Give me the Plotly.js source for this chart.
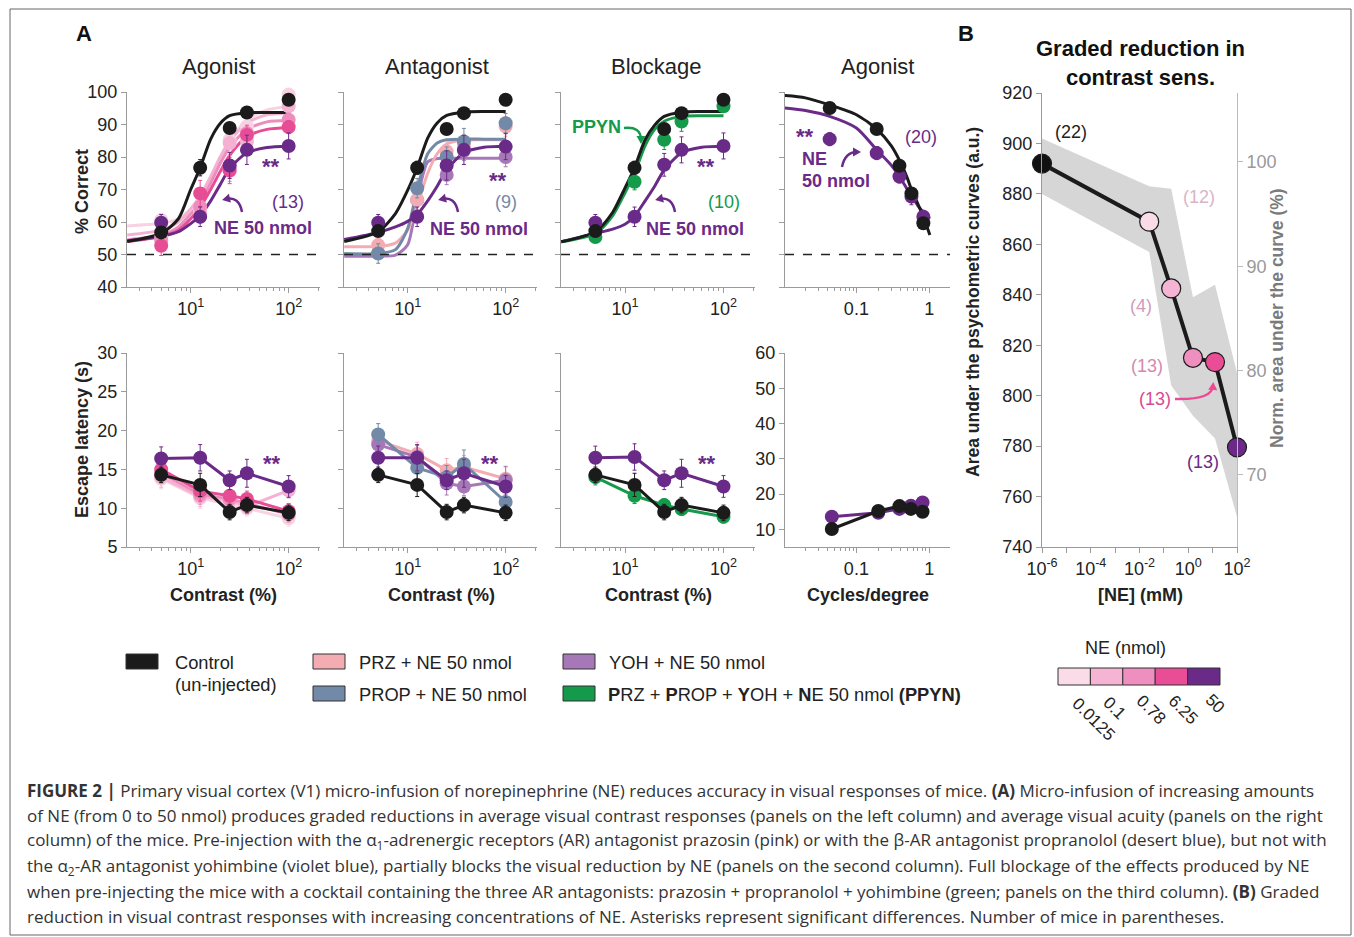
<!DOCTYPE html>
<html><head><meta charset="utf-8">
<script src="https://cdn.plot.ly/plotly-3.0.1.min.js"></script>
<style>html,body{margin:0;padding:0;background:#fff;} #chart{width:1354px;height:937px;}</style>
</head><body><div id="chart"></div>
<script>
// ---------------- DATA ----------------
const contrastPct = [5, 12.5, 25, 37.5, 100];
const cyclesTop = [0.043, 0.19, 0.39, 0.57, 0.83];
const cyclesBot = [0.046, 0.2, 0.39, 0.56, 0.81];
const fitContrast = [2.25, 5, 7.5, 10, 12.5, 16, 20, 25, 37.5, 60, 100];
const fitCycles = [0.0103, 0.02, 0.043, 0.1, 0.19, 0.3, 0.39, 0.5, 0.57, 0.7, 0.83, 1.02];

// Agonist (% correct)
const ag_ctrl = [56.8, 76.7, 88.9, 93.7, 97.6];
const ag_ne50 = [59.8, 61.6, 77.4, 82.2, 83.4];
const ag_ne625 = [52.7, 68.8, 75.8, 86.8, 89.2];
const ag_ne078 = [54.4, 64.7, 76.5, 87.3, 91.5];
const ag_ne01 = [55.4, 62.6, 84.3, 84.8, 95.6];
const ag_ne00125 = [60.6, 63.5, 85.3, 89.4, 99.2];
const ag_ctrl_err = [1.5, 2.5, 1.5, 1, 1];
const ag_ne50_err = [2.5, 3, 4, 4.5, 4];
const ag_ne625_err = [3, 4, 4, 3, 2];
const ag_ne078_err = [2, 3, 4, 2, 2];
const ag_ne01_err = [2, 3, 3, 2, 2];
const ag_ne00125_err = [2, 2, 3, 2, 2];
const agFit_ctrl = [54.0, 56.5, 61, 70, 76.7, 85.5, 90.3, 92.7, 93.6, 93.7, 93.7];
const agFit_ne50 = [54.2, 55.6, 57, 59.5, 62, 66.5, 71.5, 76.5, 81.3, 82.9, 83.3];
const agFit_ne625 = [54.0, 55.5, 57.5, 61, 64.5, 70, 75.5, 80.5, 86.3, 88.5, 89.0];
const agFit_ne078 = [54.5, 56, 58.5, 62.5, 66, 72, 78, 83, 88.5, 90.8, 91.2];
const agFit_ne01 = [56, 57.5, 60, 64, 68, 74, 80, 85, 90.5, 93, 93.5];
const agFit_ne00125 = [58.8, 59.6, 61, 64, 67.5, 73, 79, 85, 91.5, 94.5, 95.5];

// Antagonist (% correct)
const an_ctrl = [57.2, 76.7, 88.6, 93.5, 97.6];
const an_ne50 = [59.8, 61.6, 77.4, 82.2, 83.2];
const an_prop = [50.3, 70.4, 80.1, 84.8, 90.4];
const an_prz = [52.9, 66.8, 81.7, 83.7, 89.4];
const an_yoh = [50.5, 66.8, 74.5, 82.0, 80.0];
const an_ctrl_err = [1.5, 2, 1.5, 1, 1];
const an_ne50_err = [2.5, 3, 4.5, 4.5, 4];
const an_prop_err = [3, 3, 3, 4, 3];
const an_prz_err = [2, 3, 3, 3, 3];
const an_yoh_err = [2, 3, 3, 3, 3];
const anFit_ctrl = [54.0, 57, 62.6, 69.8, 76.7, 85.8, 90.5, 92.8, 93.8, 94, 94];
const anFit_prop = [50.3, 50.3, 51.5, 58, 70, 81, 84.3, 85.3, 85.5, 85.5, 85.5];
const anFit_prz = [52.4, 52.5, 53.5, 57.5, 65, 75, 81, 84, 85.2, 85.3, 85.3];
const anFit_yoh = [49.5, 49.5, 49.8, 53, 67, 78.5, 79.5, 79.6, 79.6, 79.6, 79.6];
const anFit_ne50 = [54.6, 56.8, 58.5, 60.2, 62.3, 66.5, 71, 76, 81.3, 83, 83.3];

// Blockage (% correct)
const bl_ctrl = [57.2, 76.7, 88.6, 93.5, 97.6];
const bl_ppyn = [55.4, 72.4, 85.3, 90.9, 95.6];
const bl_ne50 = [59.8, 61.6, 77.6, 82.2, 83.4];
const bl_ctrl_err = [1.5, 2, 1.5, 1, 1];
const bl_ppyn_err = [1.5, 2.5, 3, 3, 1.5];
const bl_ne50_err = [2.5, 3, 3.5, 4, 4];
const blFit_ctrl = [53.9, 57, 63, 70.5, 76.7, 85.3, 89.8, 92.5, 93.8, 94, 94];
const blFit_ppyn = [53.9, 56.5, 62, 69, 75, 83.5, 88.5, 91, 92.5, 92.7, 92.7];
const blFit_ne50 = [53.9, 56.5, 57.8, 59.3, 61.8, 66.5, 71, 76, 81.3, 83, 83.3];

// Agonist acuity (% correct)
const ac_ctrl = [95.1, 88.6, 77.3, 68.8, 59.6];
const ac_ne50 = [85.5, 81.2, 74.0, 67.8, 61.6];
const ac_ctrl_err = [1, 1.2, 1.2, 1.5, 1.5];
const ac_ne50_err = [2, 2, 2, 2.5, 2];
const acFit_ctrl = [98.9, 98.2, 96, 93, 88.6, 83.5, 79, 73.5, 70, 65.5, 61.6, 56];
const acFit_ne50 = [95.1, 94.3, 92.5, 88.9, 82.2, 77.5, 74, 70, 68, 65, 63, 61];

// Escape latency (s)
const lat_ag_ctrl = [14.3, 13.0, 9.5, 10.4, 9.4];
const lat_ag_ne50 = [16.4, 16.5, 13.6, 14.5, 12.8];
const lat_ag_ne625 = [15.0, 12.2, 11.6, 11.2, 9.6];
const lat_ag_ne078 = [14.5, 11.8, 11.2, 10.6, 9.2];
const lat_ag_ne01 = [14.0, 11.5, 11.0, 10.2, 12.3];
const lat_ag_ne00125 = [13.8, 11.3, 10.5, 10.0, 8.7];
const lat_an_ctrl = [14.3, 13.0, 9.5, 10.4, 9.4];
const lat_an_prop = [19.5, 15.2, 14.0, 15.7, 10.8];
const lat_an_prz = [18.7, 17.0, 14.9, 15.3, 13.8];
const lat_an_yoh = [18.2, 16.6, 13.2, 12.8, 13.6];
const lat_an_ne50 = [16.5, 16.5, 13.6, 14.5, 12.8];
const lat_bl_ctrl = [14.3, 13.0, 9.5, 10.4, 9.4];
const lat_bl_ppyn = [14.0, 11.6, 10.4, 9.9, 8.9];
const lat_bl_ne50 = [16.5, 16.6, 13.6, 14.5, 12.8];
const lat_ac_ctrl = [10.1, 15.2, 16.6, 15.8, 15.0];
const lat_ac_ne50 = [13.6, 14.7, 15.8, 16.7, 17.6];
const lat_err_ctrl = [1, 1.5, 1, 1, 1];
const lat_err_ne50 = [1.5, 1.7, 1.2, 1.8, 1.4];
const lat_err_pink = [1.3, 1.3, 1.2, 1, 1];
const lat_err_prop = [1.4, 1.5, 1.5, 1.8, 1.2];
const lat_err_prz = [1.2, 1.5, 1.5, 1.5, 1.5];
const lat_err_yoh = [1.2, 1.5, 1.5, 1.2, 1.8];
const lat_err_ppyn = [1, 1, 0.8, 0.8, 0.8];
const lat_err_ac = [0.6, 0.6, 0.6, 0.6, 0.6];

// Panel B
const neMM = [1e-6, 0.025, 0.2, 1.56, 12.5, 100];
const areaAUC = [892, 869, 842.5, 815, 813.3, 779.5];
const areaUpper = [902, 883, 882, 839, 844, 809];
const areaLower = [880, 857, 804, 792, 783, 752];
const miceN = ['(22)', '(12)', '(4)', '(13)', '(13)', '(13)'];
const neLevels = ['0.0125', '0.1', '0.78', '6.25', '50'];

// ---------------- STYLE ----------------
const W = 1354, H = 937;
const FONT = 'Liberation Sans, Arial, Helvetica, sans-serif';
const CAPFONT = 'Open Sans, Liberation Sans, Arial, sans-serif';
const C = {ctrl:'#1b1b1b', ne50:'#6a2a88', ne625:'#e64d95', ne078:'#ee8dbd', ne01:'#f4b1d2', ne00125:'#f8d2e3',
           prz:'#f3adb2', prop:'#7289a8', yoh:'#a678b8', ppyn:'#15994b'};
const neColors = ['#fadce9', '#f5b4d3', '#ef8fbf', '#e94d95', '#6b2a87'];
const AX = '#9b9b9b';
const px = x => x / W, py = y => 1 - y / H;

const traces = [];
const aid = i => (i === 1 ? '' : String(i));
function curve(ax, x, y, color, w) {
  traces.push({type:'scatter', mode:'lines', x, y, xaxis:'x'+aid(ax), yaxis:'y'+aid(ax),
    line:{color, width:w||3, shape:'spline', smoothing:0.7}, hoverinfo:'skip', showlegend:false, cliponaxis:false});
}
function dots(ax, x, y, err, color, withLine, size) {
  traces.push({type:'scatter', mode: withLine ? 'lines+markers' : 'markers', x, y, xaxis:'x'+aid(ax), yaxis:'y'+aid(ax),
    line:{color, width:3}, marker:{color, size:size||14},
    error_y:{type:'data', array:err, color, thickness:1, width:2, visible:true},
    showlegend:false, cliponaxis:false});
}

// Panel 1 agonist
curve(1, fitContrast, agFit_ne00125, C.ne00125);
curve(1, fitContrast, agFit_ne01, C.ne01);
curve(1, fitContrast, agFit_ne078, C.ne078);
curve(1, fitContrast, agFit_ne625, C.ne625);
curve(1, fitContrast, agFit_ne50, C.ne50);
curve(1, fitContrast, agFit_ctrl, C.ctrl);
dots(1, contrastPct, ag_ne00125, ag_ne00125_err, C.ne00125);
dots(1, contrastPct, ag_ne01, ag_ne01_err, C.ne01);
dots(1, contrastPct, ag_ne078, ag_ne078_err, C.ne078);
dots(1, contrastPct, ag_ne625, ag_ne625_err, C.ne625);
dots(1, contrastPct, ag_ne50, ag_ne50_err, C.ne50);
dots(1, contrastPct, ag_ctrl, ag_ctrl_err, C.ctrl);
// Panel 2 antagonist
curve(2, fitContrast, anFit_yoh, C.yoh);
curve(2, fitContrast, anFit_prz, C.prz);
curve(2, fitContrast, anFit_prop, C.prop);
curve(2, fitContrast, anFit_ne50, C.ne50);
curve(2, fitContrast, anFit_ctrl, C.ctrl);
dots(2, contrastPct, an_yoh, an_yoh_err, C.yoh);
dots(2, contrastPct, an_prz, an_prz_err, C.prz);
dots(2, contrastPct, an_prop, an_prop_err, C.prop);
dots(2, contrastPct, an_ne50, an_ne50_err, C.ne50);
dots(2, contrastPct, an_ctrl, an_ctrl_err, C.ctrl);
// Panel 3 blockage
curve(3, fitContrast, blFit_ne50, C.ne50);
curve(3, fitContrast, blFit_ppyn, C.ppyn);
curve(3, fitContrast, blFit_ctrl, C.ctrl);
dots(3, contrastPct, bl_ne50, bl_ne50_err, C.ne50);
dots(3, contrastPct, bl_ppyn, bl_ppyn_err, C.ppyn);
dots(3, contrastPct, bl_ctrl, bl_ctrl_err, C.ctrl);
// Panel 4 acuity
curve(4, fitCycles, acFit_ne50, C.ne50);
curve(4, fitCycles, acFit_ctrl, C.ctrl);
dots(4, cyclesTop, ac_ne50, ac_ne50_err, C.ne50);
dots(4, cyclesTop, ac_ctrl, ac_ctrl_err, C.ctrl);
// Bottom latency
dots(5, contrastPct, lat_ag_ne00125, lat_err_pink, C.ne00125, true);
dots(5, contrastPct, lat_ag_ne01, lat_err_pink, C.ne01, true);
dots(5, contrastPct, lat_ag_ne078, lat_err_pink, C.ne078, true);
dots(5, contrastPct, lat_ag_ne625, lat_err_pink, C.ne625, true);
dots(5, contrastPct, lat_ag_ne50, lat_err_ne50, C.ne50, true);
dots(5, contrastPct, lat_ag_ctrl, lat_err_ctrl, C.ctrl, true);
dots(6, contrastPct, lat_an_prz, lat_err_prz, C.prz, true);
dots(6, contrastPct, lat_an_yoh, lat_err_yoh, C.yoh, true);
dots(6, contrastPct, lat_an_prop, lat_err_prop, C.prop, true);
dots(6, contrastPct, lat_an_ne50, lat_err_ne50, C.ne50, true);
dots(6, contrastPct, lat_an_ctrl, lat_err_ctrl, C.ctrl, true);
dots(7, contrastPct, lat_bl_ppyn, lat_err_ppyn, C.ppyn, true);
dots(7, contrastPct, lat_bl_ne50, lat_err_ne50, C.ne50, true);
dots(7, contrastPct, lat_bl_ctrl, lat_err_ctrl, C.ctrl, true);
dots(8, cyclesBot, lat_ac_ne50, lat_err_ac, C.ne50, true);
dots(8, cyclesBot, lat_ac_ctrl, lat_err_ac, C.ctrl, true);

// Panel B
traces.push({type:'scatter', mode:'lines', x:neMM, y:areaUpper, xaxis:'x9', yaxis:'y9', line:{width:0, color:'#d6d6d6'}, hoverinfo:'skip', showlegend:false});
traces.push({type:'scatter', mode:'lines', x:neMM, y:areaLower, xaxis:'x9', yaxis:'y9', fill:'tonexty', fillcolor:'#d6d6d6', line:{width:0, color:'#d6d6d6'}, hoverinfo:'skip', showlegend:false});
traces.push({type:'scatter', mode:'lines+markers', x:neMM, y:areaAUC, xaxis:'x9', yaxis:'y9', cliponaxis:false,
  line:{color:'#1b1b1b', width:4}, marker:{size:19, color:['#111111'].concat(neColors), line:{color:'#1b1b1b', width:1.2}}, showlegend:false});
traces.push({type:'scatter', mode:'markers', x:[neMM[0]], y:[areaAUC[0]], xaxis:'x9', yaxis:'y10', marker:{size:1, opacity:0}, hoverinfo:'skip', showlegend:false});

// ---------------- LAYOUT ----------------
const tickFont = {family:FONT, size:18, color:'#222'};
const base = {showgrid:false, zeroline:false, showline:true, linecolor:AX, linewidth:1, ticks:'outside', ticklen:5, tickcolor:AX, tickfont:tickFont, fixedrange:true};
const minorContrast = [3,4,5,6,7,8,9,20,30,40,50,60,70,80,90,200];
const minorCycles = [0.02,0.03,0.04,0.05,0.06,0.07,0.08,0.09,0.2,0.3,0.4,0.5,0.6,0.7,0.8,0.9];
const colX = [[127,320],[344,537],[561,755],[785,950]];
const layout = {width:W, height:H, margin:{l:0,r:0,t:0,b:0}, paper_bgcolor:'#fff', plot_bgcolor:'rgba(0,0,0,0)',
  showlegend:false, font:{family:FONT, color:'#222'}, shapes:[], annotations:[]};
for (let r = 0; r < 2; r++) {
  for (let c = 0; c < 4; c++) {
    const i = r*4 + c + 1;
    const isAc = c === 3;
    const xa = Object.assign({}, base, {domain:[px(colX[c][0]), px(colX[c][1])], anchor:'y'+aid(i), type:'log'});
    if (isAc) Object.assign(xa, {range:[-1.98, 0.285], tickvals:[0.1, 1], ticktext:['0.1','1'], minor:{tickvals:minorCycles, ticks:'outside', ticklen:3, tickcolor:AX}});
    else Object.assign(xa, {range:[0.35, 2.32], tickvals:[10, 100], ticktext:['10<sup>1</sup>','10<sup>2</sup>'], minor:{tickvals:minorContrast, ticks:'outside', ticklen:3, tickcolor:AX}});
    const ya = Object.assign({}, base, {anchor:'x'+aid(i)});
    if (r === 0) Object.assign(ya, {domain:[py(287), py(92)], range:[40,100], tickvals:[40,50,60,70,80,90,100], showticklabels: c===0});
    else if (!isAc) Object.assign(ya, {domain:[py(547), py(353)], range:[5,30], tickvals:[5,10,15,20,25,30], showticklabels: c===0});
    else Object.assign(ya, {domain:[py(547), py(353)], range:[5,60], tickvals:[10,20,30,40,50,60], showticklabels:true});
    layout['xaxis'+aid(i)] = xa;
    layout['yaxis'+aid(i)] = ya;
    if (r === 0) layout.shapes.push({type:'line', xref:'x'+aid(i)+' domain', yref:'y'+aid(i), x0:0, x1:1, y0:50, y1:50, line:{color:'#222', width:1.5, dash:'dash'}});
  }
}
layout.xaxis9 = Object.assign({}, base, {domain:[px(1042), px(1237)], anchor:'y9', type:'log', range:[-6, 2],
  tickvals:[1e-6,1e-4,1e-2,1,100], ticktext:['10<sup>-6</sup>','10<sup>-4</sup>','10<sup>-2</sup>','10<sup>0</sup>','10<sup>2</sup>'],
  minor:{tickvals:[1e-5,1e-3,1e-1,10], ticks:'outside', ticklen:5, tickcolor:AX}});
layout.yaxis9 = Object.assign({}, base, {domain:[py(547), py(93)], anchor:'x9', range:[740, 920], dtick:20});
layout.yaxis10 = Object.assign({}, base, {domain:[py(547), py(93)], anchor:'x9', overlaying:'y9', side:'right', range:[63.1, 106.6],
  tickvals:[70,80,90,100], tickfont:{family:FONT, size:18, color:'#999'}, linecolor:'#bbb', tickcolor:'#bbb'});

// ---------------- ANNOTATIONS ----------------
function ann(text, x, y, o) {
  o = o || {};
  layout.annotations.push({text, x:px(x), y:py(y), xref:'paper', yref:'paper', showarrow:false,
    xanchor:o.xa||'center', yanchor:o.ya||'middle', textangle:o.angle||0, align:o.align||'center',
    font:{family:o.family||FONT, size:o.size||17, color:o.color||'#222'}});
}
function arrow(x0, y0, cx, cy, x1, y1, color) {
  layout.shapes.push({type:'path', xref:'paper', yref:'paper', line:{color, width:2.5},
    path:`M ${px(x0)} ${py(y0)} Q ${px(cx)} ${py(cy)} ${px(x1)} ${py(y1)}`});
  let dx = x1 - cx, dy = y1 - cy; const L = Math.hypot(dx, dy); dx /= L; dy /= L;
  const tx = x1 + dx*4, ty = y1 + dy*4, bx = x1 - dx*4, by = y1 - dy*4, nx = -dy, ny = dx;
  layout.shapes.push({type:'path', xref:'paper', yref:'paper', fillcolor:color, line:{width:0},
    path:`M ${px(tx)} ${py(ty)} L ${px(bx+nx*4.5)} ${py(by+ny*4.5)} L ${px(bx-nx*4.5)} ${py(by-ny*4.5)} Z`});
}
ann('<b>A</b>', 84, 34, {size:22, color:'#111'});
ann('<b>B</b>', 966, 34, {size:22, color:'#111'});
ann('Agonist', 219, 67, {size:22});
ann('Antagonist', 437, 67, {size:22});
ann('Blockage', 656, 67, {size:22});
ann('Agonist', 878, 67, {size:22});
ann('<b>% Correct</b>', 82, 192, {angle:-90, size:18});
ann('<b>Escape latency (s)</b>', 82, 440, {angle:-90, size:18});
ann('<b>Contrast (%)</b>', 223, 595, {size:18});
ann('<b>Contrast (%)</b>', 441, 595, {size:18});
ann('<b>Contrast (%)</b>', 658, 595, {size:18});
ann('<b>Cycles/degree</b>', 868, 595, {size:18});
// panel annotations
ann('<b>**</b>', 271, 167, {size:22, color:C.ne50});
ann('(13)', 288, 202, {size:18, color:C.ne50});
ann('<b>NE 50 nmol</b>', 263, 228, {size:18, color:C.ne50});
arrow(242, 212, 239, 196, 226, 199, C.ne50);
ann('<b>**</b>', 498, 180, {size:22, color:C.ne50});
ann('(9)', 506, 202, {size:18, color:C.prop});
ann('<b>NE 50 nmol</b>', 479, 229, {size:18, color:C.ne50});
arrow(458, 212, 455, 196, 442, 199, C.ne50);
ann('<b>PPYN</b>', 596, 127, {size:18, color:C.ppyn});
arrow(624, 128, 641, 126, 641, 140, C.ppyn);
ann('<b>**</b>', 706, 167, {size:22, color:C.ne50});
ann('(10)', 724, 202, {size:18, color:C.ppyn});
ann('<b>NE 50 nmol</b>', 695, 229, {size:18, color:C.ne50});
arrow(675, 212, 672, 196, 659, 199, C.ne50);
ann('<b>**</b>', 805, 136, {size:22, color:C.ne50});
ann('(20)', 921, 137, {size:18, color:C.ne50});
ann('<b>NE</b>', 814, 159, {size:18, color:C.ne50});
ann('<b>50 nmol</b>', 836, 181, {size:18, color:C.ne50});
arrow(842, 167, 845, 152, 857, 152, C.ne50);
ann('<b>**</b>', 272, 463, {size:22, color:C.ne50});
ann('<b>**</b>', 490, 463, {size:22, color:C.ne50});
ann('<b>**</b>', 707, 463, {size:22, color:C.ne50});
// panel B
ann('<b>Graded reduction in<br>contrast sens.</b>', 1140, 63, {size:22, color:'#111'});
ann('<b>Area under the psychometric curves (a.u.)</b>', 973, 302, {angle:-90, size:17.5});
ann('<b>Norm. area under the curve (%)</b>', 1277, 318, {angle:-90, size:17.5, color:'#7a7a7a'});
ann('<b>[NE] (mM)</b>', 1140, 595, {size:18});
const nPos = [[1071,132],[1199,197],[1141,306],[1147,366],[1155,399],[1203,462]];
const nCol = ['#222','#d9b5c7','#d39bbb','#d389b1','#d9488f','#6b2a87'];
miceN.forEach((t, k) => ann(t, nPos[k][0], nPos[k][1], {size:18, color:nCol[k]}));
arrow(1175, 399, 1212, 400, 1213, 386, '#ea4b94');

// Legend
function box(x0, y0, x1, y1, fill) {
  layout.shapes.push({type:'rect', xref:'paper', yref:'paper', x0:px(x0), x1:px(x1), y0:py(y1), y1:py(y0), fillcolor:fill, line:{color:'#333', width:1}});
}
const LF = 18.3;
box(126, 654, 158, 669, C.ctrl);
ann('Control', 173, 662, {xa:'left', size:LF});
ann('(un-injected)', 173, 684, {xa:'left', size:LF});
box(313, 654, 345, 669, C.prz);
ann('PRZ + NE 50 nmol', 357, 662, {xa:'left', size:LF});
box(313, 686, 345, 701, C.prop);
ann('PROP + NE 50 nmol', 357, 694, {xa:'left', size:LF});
box(563, 654, 595, 669, C.yoh);
ann('YOH + NE 50 nmol', 607, 662, {xa:'left', size:LF});
box(563, 686, 595, 701, C.ppyn);
ann('<b>P</b>RZ + <b>P</b>ROP + <b>Y</b>OH + <b>N</b>E 50 nmol <b>(PPYN)</b>', 606, 694, {xa:'left', size:LF});

// NE colour scale
ann('NE (nmol)', 1125, 648, {size:18});
const cbX0 = 1058, cbW = 32.4;
neLevels.forEach((lv, k) => box(cbX0 + k*cbW, 668, cbX0 + (k+1)*cbW, 685, neColors[k]));
const lblPos = [[1094,719],[1115,708],[1151,709],[1183,709],[1215,703]];
neLevels.forEach((lv, k) => ann(lv, lblPos[k][0], lblPos[k][1], {angle:45, size:17}));

// Frame
layout.shapes.push({type:'rect', xref:'paper', yref:'paper', x0:px(10), x1:px(1351), y0:py(935), y1:py(9), line:{color:'#666', width:1}});

// Caption
const capLines = [
  '<b>FIGURE 2 |</b> Primary visual cortex (V1) micro-infusion of norepinephrine (NE) reduces accuracy in visual responses of mice. <b>(A)</b> Micro-infusion of increasing amounts',
  'of NE (from 0 to 50 nmol) produces graded reductions in average visual contrast responses (panels on the left column) and average visual acuity (panels on the right',
  'column) of the mice. Pre-injection with the α<sub>1</sub>-adrenergic receptors (AR) antagonist prazosin (pink) or with the β-AR antagonist propranolol (desert blue), but not with',
  'the α<sub>2</sub>-AR antagonist yohimbine (violet blue), partially blocks the visual reduction by NE (panels on the second column). Full blockage of the effects produced by NE',
  'when pre-injecting the mice with a cocktail containing the three AR antagonists: prazosin + propranolol + yohimbine (green; panels on the third column). <b>(B)</b> Graded',
  'reduction in visual contrast responses with increasing concentrations of NE. Asterisks represent significant differences. Number of mice in parentheses.'
];
const capY = [790, 815, 840, 866, 891, 916];
capLines.forEach((t, k) => ann(t, 25, capY[k], {xa:'left', size:17, color:'#333', align:'left', family:CAPFONT}));

Plotly.newPlot('chart', traces, layout, {staticPlot:true, displayModeBar:false});
</script>
</body></html>
